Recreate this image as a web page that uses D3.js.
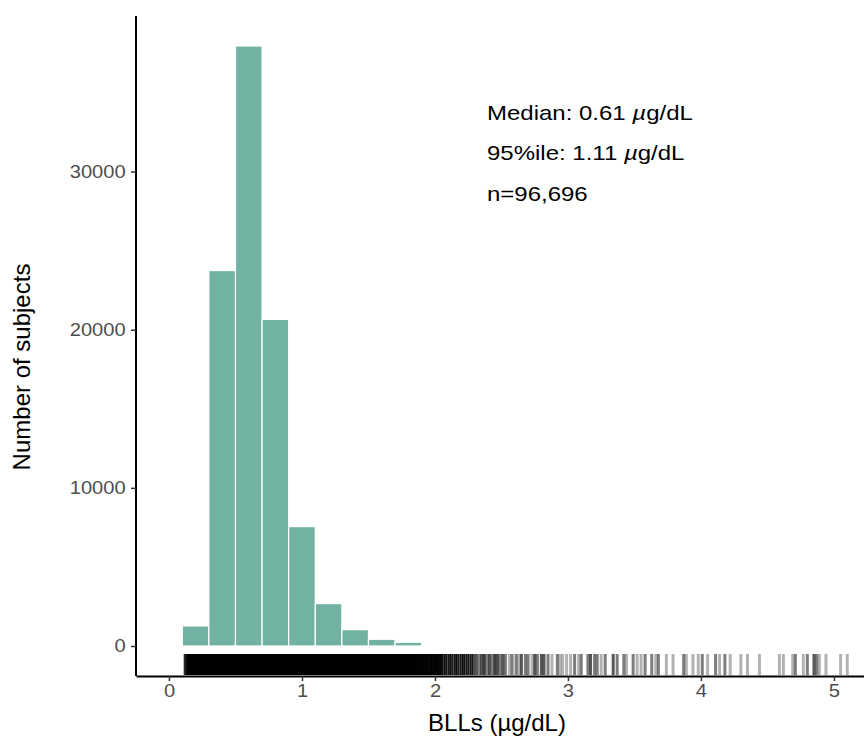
<!DOCTYPE html>
<html>
<head>
<meta charset="utf-8">
<title>BLLs histogram</title>
<style>
  * { margin: 0; padding: 0; }
  body { background: #fff; }
  svg { display: block; font-family: "Liberation Sans", Arial, sans-serif; }
</style>
</head>
<body>
<svg id="chart" width="864" height="745"></svg>
<script src="https://cdn.jsdelivr.net/npm/d3@7"></script>
<script>
// histogram bins (µg/dL) and counts
const binEdges = [0.1, 0.3, 0.5, 0.7, 0.9, 1.1, 1.3, 1.5, 1.7, 1.9];
const binCounts = [1270, 23740, 37940, 20650, 7550, 2680, 1035, 425, 235];
const xTicks = [0, 1, 2, 3, 4, 5];
const yTicks = [0, 10000, 20000, 30000];
// rug: solid part where ticks overlap fully, then single values with an overlap count
const rugDense = [0.13, 1.85];
const rugValues = [0.12, 0.125,
  1.85, 1.86, 1.87, 1.88, 1.89, 1.90, 1.91, 1.92, 1.93, 1.94, 1.95, 1.96, 1.97, 1.98, 1.99, 2.00, 2.01, 2.02, 2.03, 2.04, 2.05,
  2.065, 2.08, 2.095, 2.11, 2.125, 2.14, 2.155, 2.17, 2.185, 2.20, 2.215, 2.23, 2.245, 2.26, 2.275, 2.29,
  2.31, 2.33, 2.35, 2.37, 2.39, 2.41, 2.43, 2.45, 2.47, 2.49, 2.51, 2.53,
  2.56, 2.58, 2.61, 2.63, 2.65, 2.68, 2.70, 2.73, 2.75, 2.77,
  2.80, 2.82, 2.85, 2.88, 2.92, 2.94, 2.96, 2.99, 3.02, 3.05, 3.08, 3.10, 3.15, 3.17, 3.20, 3.22, 3.25, 3.28,
  3.34, 3.37, 3.42, 3.44, 3.49, 3.52, 3.55, 3.58, 3.63, 3.66, 3.68, 3.74, 3.79, 3.87, 3.89, 3.94, 3.98,
  4.01, 4.05, 4.11, 4.14, 4.18, 4.22, 4.30, 4.35, 4.44, 4.59, 4.62, 4.69, 4.71, 4.77, 4.80, 4.85, 4.87, 4.89, 4.94, 5.05, 5.10, 5.25];
const rugCounts = [2, 4,
  6, 7, 5, 7, 6, 8, 5, 7, 6, 7, 4, 6, 7, 5, 6, 7, 5, 6, 4, 6, 5,
  4, 5, 3, 5, 4, 3, 5, 4, 3, 4, 5, 3, 4, 3, 4, 3,
  3, 2, 3, 4, 2, 3, 2, 4, 3, 2, 3, 2,
  1, 2, 2, 1, 3, 2, 2, 1, 3, 2,
  3, 3, 2, 1, 2, 1, 1, 1, 1, 2, 1, 2, 2, 3, 2, 2, 1, 2,
  3, 2, 2, 1, 2, 1, 1, 2, 2, 1, 2, 1, 1, 2, 1, 1, 1,
  2, 1, 2, 1, 2, 1, 1, 1, 1, 1, 1, 1, 2, 1, 2, 3, 2, 1, 1, 1, 1, 1];
const notes = ["Median: 0.61 ", "95%ile: 1.11 ", "n=96,696"];

const svg = d3.select("#chart");
const W = 864, H = 745;
const padLeft = 136, padTop = 16, axisY = 676;

const x = d3.scaleLinear().domain([-0.248, 5.226]).range([padLeft, W]);
const y = d3.scaleLinear().domain([-1897, 39837]).range([axisY, padTop]);

svg.append("rect").attr("width", W).attr("height", H).attr("fill", "#fff");

// bars
const bins = binCounts.map((c, i) => ({ x0: binEdges[i], x1: binEdges[i + 1], n: c }));
svg.append("g").selectAll("rect").data(bins).join("rect")
  .attr("x", d => x(d.x0))
  .attr("width", d => x(d.x1) - x(d.x0))
  .attr("y", d => y(d.n))
  .attr("height", d => y(0) - y(d.n))
  .attr("fill", "#72b2a3")
  .attr("stroke", "#fff")
  .attr("stroke-width", 1.2);

// rug
const rugTop = axisY - 22, rugBot = axisY - 1;
svg.append("rect")
  .attr("x", x(rugDense[0])).attr("width", x(rugDense[1]) - x(rugDense[0]))
  .attr("y", rugTop).attr("height", rugBot - rugTop)
  .attr("fill", "#000");
svg.append("g").selectAll("line").data(rugValues).join("line")
  .attr("x1", d => x(d)).attr("x2", d => x(d))
  .attr("y1", rugTop).attr("y2", rugBot)
  .attr("stroke", "#000")
  .attr("stroke-width", 3)
  .attr("stroke-opacity", (d, i) => 1 - Math.pow(0.7, rugCounts[i]));

// axes
const fmt = d3.format("d");
const yAxis = svg.append("g").attr("transform", `translate(${padLeft},0)`)
  .call(d3.axisLeft(y).tickValues(yTicks).tickFormat(fmt).tickSize(5).tickPadding(4).tickSizeOuter(0));
const xAxis = svg.append("g").attr("transform", `translate(0,${axisY})`)
  .call(d3.axisBottom(x).tickValues(xTicks).tickFormat(fmt).tickSize(5).tickPadding(4).tickSizeOuter(0));

[yAxis, xAxis].forEach(g => {
  g.select(".domain").attr("stroke", "#000").attr("stroke-width", 2);
  g.selectAll(".tick line").attr("stroke", "#333").attr("stroke-width", 1.5);
  g.selectAll(".tick text")
    .attr("fill", "#4d4d4d")
    .attr("font-size", 17.5)
    .attr("font-family", "'Liberation Sans', Arial, sans-serif");
});
yAxis.selectAll(".tick text").attr("transform", "scale(1.15,1)");
xAxis.selectAll(".tick text").attr("transform", "scale(1.15,1)");
yAxis.select(".domain").attr("d", `M0,${padTop}V${axisY}`);

// axis titles
svg.append("text")
  .attr("transform", `translate(30,367) rotate(-90)`)
  .attr("text-anchor", "middle")
  .attr("font-size", 24)
  .attr("fill", "#000")
  .text("Number of subjects");
svg.append("text")
  .attr("x", 497).attr("y", 731)
  .attr("text-anchor", "middle")
  .attr("font-size", 24)
  .attr("fill", "#000")
  .text("BLLs (µg/dL)");

// annotation
const ann = svg.append("g").attr("transform", "translate(487,0) scale(1.2,1)");
notes.forEach((t, i) => {
  const txt = ann.append("text")
    .attr("x", 0).attr("y", 120 + i * 40.5)
    .attr("font-size", 20)
    .attr("fill", "#000")
    .text(t);
  if (i < 2) {
    txt.append("tspan").attr("font-style", "italic").text("µ");
    txt.append("tspan").text("g/dL");
  }
});
</script>
</body>
</html>
